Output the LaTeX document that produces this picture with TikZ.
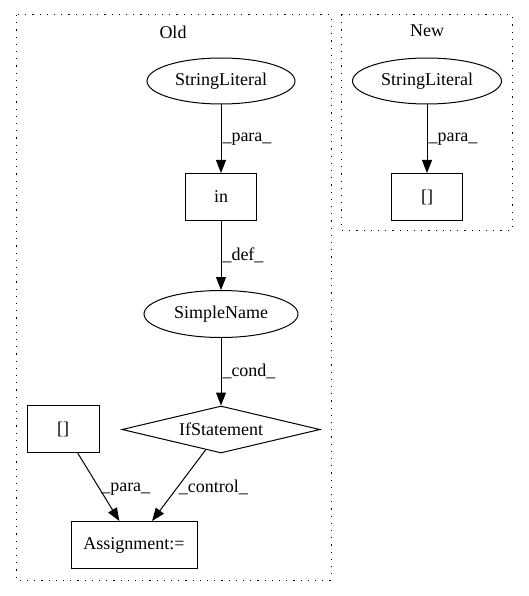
\documentclass[tikz,border=0pt]{standalone}
\usepackage{fontspec}
\setmainfont{Liberation Serif}
\usetikzlibrary{shapes.geometric,arrows.meta}

\begin{document}
\begin{tikzpicture}[x=1pt, y=-1pt, line width=1pt,
  every node/.style={font=\fontsize{18}{21}\selectfont},
  oval/.style={ellipse, draw, minimum width=148pt, minimum height=46pt, inner sep=0pt},
  box/.style={rectangle, draw, minimum height=47pt, inner sep=0pt},
  rhomb/.style={diamond, draw, aspect=4.2, minimum width=198pt, minimum height=47pt, inner sep=0pt},
  lbl/.style={right, inner sep=1pt},
  frame/.style={dash pattern=on 1.2pt off 6pt},
  >={Triangle[length=13pt, width=10pt]}]
\useasboundingbox (0,0) rectangle (528,596);
\draw[frame] (16,15) rectangle (331,580);
\draw[frame] (341,15) rectangle (512,230);
\node (old) at (173,32) {Old};
\node (new) at (427,31) {New};
\node[oval] (strlit) at (221,81) {StringLiteral};
\node[box, minimum width=71pt] (in) at (221,197) {in};
\node[oval, minimum width=154pt, minimum height=47pt] (simple) at (221,314) {SimpleName};
\node[rhomb] (ifst) at (221,429.5) {IfStatement};
\node[box, minimum width=72pt] (idx) at (63,429) {[]};
\node[box, minimum width=126pt] (assign) at (134,545) {Assignment:=};
\node[oval, minimum width=149pt] (strlitnew) at (427,81) {StringLiteral};
\node[box, minimum width=71pt] (idxnew) at (427,197) {[]};
\draw[->] (strlit) -- node[lbl] {\_para\_} (in);
\draw[->] (in) -- node[lbl] {\_def\_} (simple);
\draw[->] (simple) -- node[lbl] {\_cond\_} (ifst);
\draw[->] (idx) -- node[lbl, pos=0.53] {\_para\_} (assign);
\draw[->] (ifst) -- node[lbl, pos=0.53] {\_control\_} (assign);
\draw[->] (strlitnew) -- node[lbl] {\_para\_} (idxnew);
\end{tikzpicture}
\end{document}
